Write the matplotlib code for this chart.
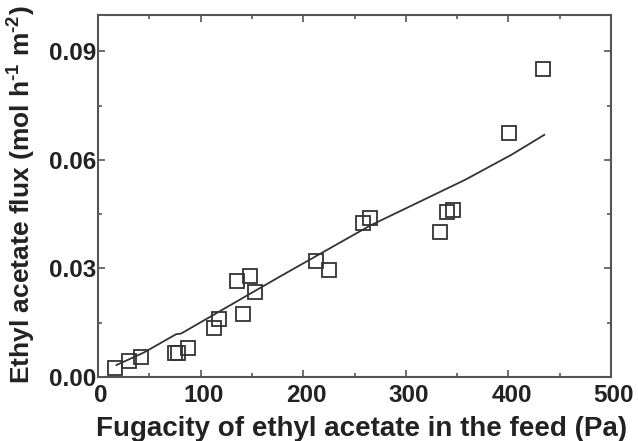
import matplotlib
matplotlib.use("Agg")
import matplotlib.pyplot as plt
import matplotlib.transforms as mtransforms
from matplotlib.ticker import MultipleLocator

# measured points
fugacity = [17, 30, 42, 75, 78, 88, 113, 118, 135, 141, 148, 153,
            212, 225, 258, 265, 333, 340, 346, 401, 434]
flux = [0.0025, 0.0045, 0.0055, 0.0065, 0.0065, 0.008, 0.0135, 0.016,
        0.0265, 0.0175, 0.028, 0.0235, 0.032, 0.0295, 0.0425, 0.044,
        0.040, 0.0455, 0.046, 0.0675, 0.085]

# model curve
model_x = [18, 45, 76, 81, 177, 265, 358, 403, 435]
model_y = [0.0033, 0.0068, 0.0118, 0.0120, 0.0277, 0.0418, 0.0545, 0.0614, 0.0669]

plt.rcParams['font.family'] = ['Liberation Sans', 'DejaVu Sans']
plt.rcParams['font.weight'] = 'bold'
plt.rcParams['mathtext.fontset'] = 'custom'
plt.rcParams['mathtext.rm'] = 'Liberation Sans:bold'
plt.rcParams['mathtext.bf'] = 'Liberation Sans:bold'

grey = '#555555'
fig = plt.figure(figsize=(6.38, 4.41), dpi=100)
ax = fig.add_axes([98 / 638, 1 - 377 / 441, 513 / 638, 362 / 441])

ax.plot(model_x, model_y, color='#333333', lw=1.3)
ax.plot(fugacity, flux, 's', mfc='none', mec='#333333', ms=10, mew=1.3)

ax.set_xlim(0, 500)
ax.set_ylim(0, 0.1)
ax.xaxis.set_major_locator(MultipleLocator(100))
ax.xaxis.set_minor_locator(MultipleLocator(50))
ax.yaxis.set_major_locator(MultipleLocator(0.03))
ax.yaxis.set_minor_locator(MultipleLocator(0.015))
ax.yaxis.set_major_formatter(plt.FuncFormatter(lambda v, p: f"{v:.2f}"))

ax.tick_params(which='both', direction='in', top=True, right=True,
               color=grey, width=1.2, labelsize=17.5, labelcolor='#222222')
ax.tick_params(which='major', length=5)
ax.tick_params(which='minor', length=3)
ax.tick_params(axis='x', pad=5)
ax.tick_params(axis='y', pad=1)
for s in ax.spines.values():
    s.set_color(grey)
    s.set_linewidth(1.5)

# x tick labels sit a little to the right in the original
shift = mtransforms.ScaledTranslation(3 / 100, 0, fig.dpi_scale_trans)
for lab in ax.get_xticklabels():
    lab.set_transform(lab.get_transform() + shift)

ax.set_xlabel('Fugacity of ethyl acetate in the feed (Pa)', fontsize=20,
              fontweight='bold', color='#222222')
ax.xaxis.label.set_va('top')
ax.xaxis.set_label_coords(0.513, -(416 - 377) / 362)

ax.set_ylabel(r'Ethyl acetate flux (mol h$^{\text{-1}}$ m$^{\text{-2}}$)', fontsize=19,
              fontweight='bold', color='#222222')
ax.yaxis.label.set_va('center')
ax.yaxis.set_label_coords(-(98 - 21) / 513, 0.503)

fig.savefig('out.png', dpi=100)
